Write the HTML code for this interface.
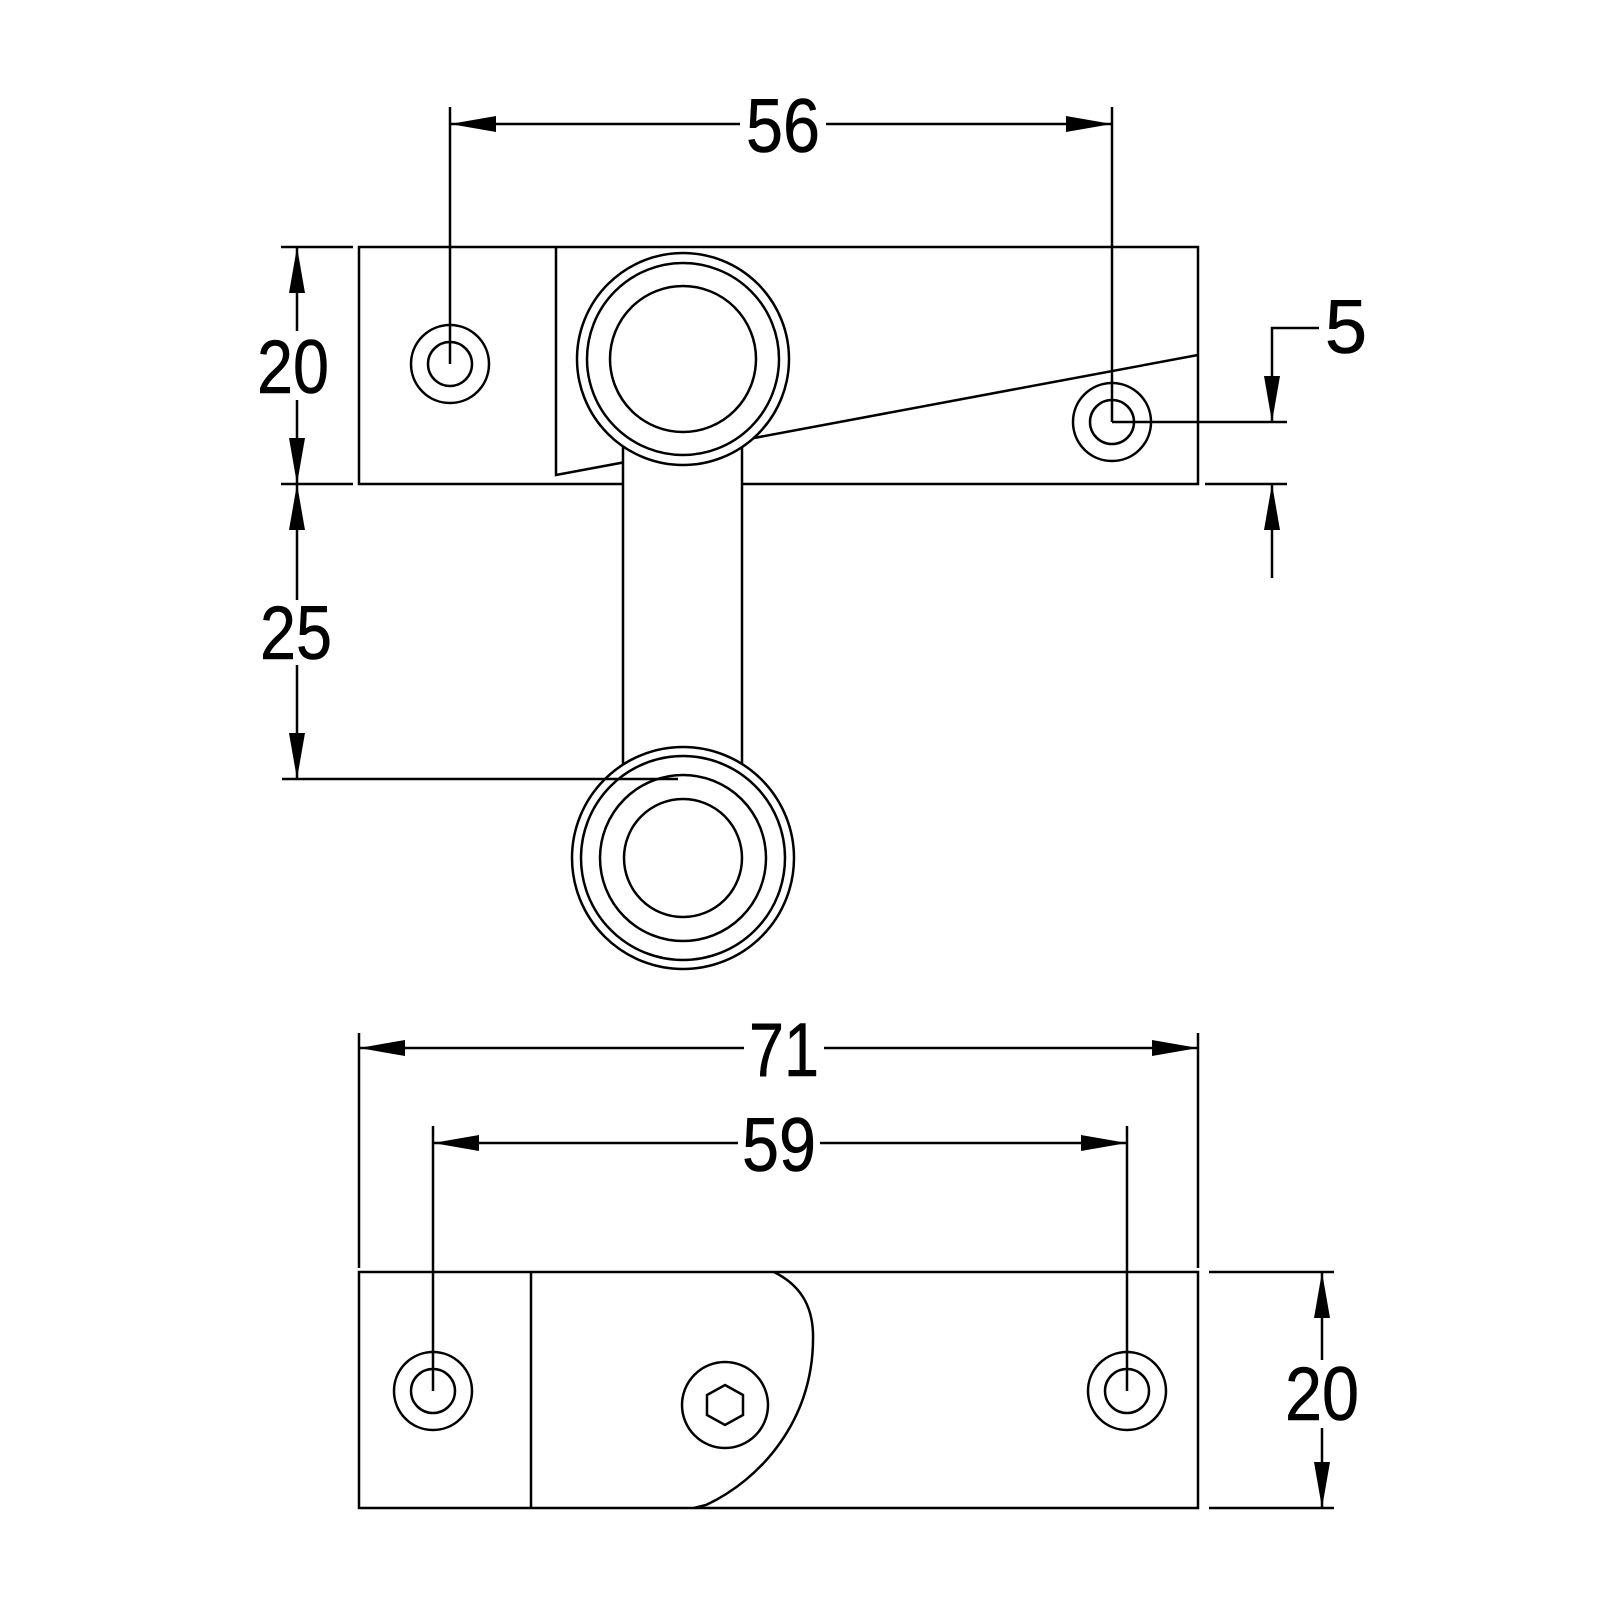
<!DOCTYPE html>
<html><head><style>html,body{margin:0;padding:0;background:#fff}svg{display:block}</style></head>
<body>
<svg width="1600" height="1600" viewBox="0 0 1600 1600" xmlns="http://www.w3.org/2000/svg">
<defs>
<marker id="a" viewBox="0 0 46 16" refX="46" refY="8" markerWidth="46" markerHeight="16" markerUnits="userSpaceOnUse" orient="auto-start-reverse"><path d="M0,0 L46,8 L0,16 Z" fill="#000"/></marker>
</defs>
<g fill="none" stroke="#000" stroke-width="2.5">
<rect x="359" y="247" width="839" height="237" fill="#fff"/>
<polyline points="556,247 556,475 1198,355"/>
<rect x="623" y="440" width="119" height="330" fill="#fff"/>
<circle cx="683" cy="359" r="106" fill="#fff"/>
<circle cx="683" cy="359" r="96"/>
<circle cx="683" cy="359" r="73"/>
<circle cx="450" cy="364" r="39"/>
<circle cx="450" cy="364" r="22"/>
<circle cx="1112" cy="422" r="39"/>
<circle cx="1112" cy="422" r="22"/>
<circle cx="683" cy="858" r="111" fill="#fff"/>
<circle cx="683" cy="858" r="102"/>
<circle cx="683" cy="858" r="83"/>
<circle cx="683" cy="858" r="59"/>
<line x1="450" y1="107" x2="450" y2="364"/>
<line x1="1112" y1="107" x2="1112" y2="422"/>
<line x1="450" y1="124" x2="740" y2="124" marker-start="url(#a)"/>
<line x1="826" y1="124" x2="1112" y2="124" marker-end="url(#a)"/>
<line x1="281" y1="247" x2="353" y2="247"/>
<line x1="281" y1="484" x2="353" y2="484"/>
<line x1="297" y1="247" x2="297" y2="331" marker-start="url(#a)"/>
<line x1="297" y1="400" x2="297" y2="484" marker-end="url(#a)"/>
<line x1="297" y1="484" x2="297" y2="600" marker-start="url(#a)"/>
<line x1="297" y1="665" x2="297" y2="779" marker-end="url(#a)"/>
<line x1="282" y1="779" x2="678" y2="779"/>
<line x1="1112" y1="422" x2="1287" y2="422"/>
<line x1="1205" y1="484" x2="1287" y2="484"/>
<polyline points="1319,328 1272,328 1272,422" marker-end="url(#a)"/>
<line x1="1272" y1="484" x2="1272" y2="578" marker-start="url(#a)"/>
<rect x="359" y="1272" width="839" height="236"/>
<line x1="531" y1="1272" x2="531" y2="1508"/>
<path d="M774,1272 C800,1285 812,1305 813,1333 C815,1420 760,1480 706,1505 L694,1508"/>
<circle cx="433" cy="1391" r="39"/>
<circle cx="433" cy="1391" r="22"/>
<circle cx="1127" cy="1391" r="39"/>
<circle cx="1127" cy="1391" r="22"/>
<circle cx="725" cy="1405" r="43"/>
<polygon points="725,1385 743,1395 743,1415 725,1425 707,1415 707,1395"/>
<line x1="359" y1="1033" x2="359" y2="1268"/>
<line x1="1198" y1="1033" x2="1198" y2="1268"/>
<line x1="359" y1="1048" x2="744" y2="1048" marker-start="url(#a)"/>
<line x1="824" y1="1048" x2="1198" y2="1048" marker-end="url(#a)"/>
<line x1="433" y1="1126" x2="433" y2="1391"/>
<line x1="1127" y1="1126" x2="1127" y2="1391"/>
<line x1="433" y1="1143" x2="738" y2="1143" marker-start="url(#a)"/>
<line x1="820" y1="1143" x2="1127" y2="1143" marker-end="url(#a)"/>
<line x1="1209" y1="1272" x2="1334" y2="1272"/>
<line x1="1209" y1="1508" x2="1334" y2="1508"/>
<line x1="1322" y1="1272" x2="1322" y2="1360" marker-start="url(#a)"/>
<line x1="1322" y1="1428" x2="1322" y2="1508" marker-end="url(#a)"/>
</g>
<g font-family="Liberation Sans, sans-serif" font-size="76" fill="#000" stroke="#000" stroke-width="0.6" text-anchor="middle">
<text x="783" y="152" textLength="74" lengthAdjust="spacingAndGlyphs">56</text>
<text x="293" y="393" textLength="72" lengthAdjust="spacingAndGlyphs">20</text>
<text x="296" y="659" textLength="72" lengthAdjust="spacingAndGlyphs">25</text>
<text x="1346" y="353">5</text>
<text x="784" y="1076" textLength="70" lengthAdjust="spacingAndGlyphs">71</text>
<text x="779" y="1171" textLength="74" lengthAdjust="spacingAndGlyphs">59</text>
<text x="1322" y="1420" textLength="74" lengthAdjust="spacingAndGlyphs">20</text>
</g>
</svg>
</body></html>
